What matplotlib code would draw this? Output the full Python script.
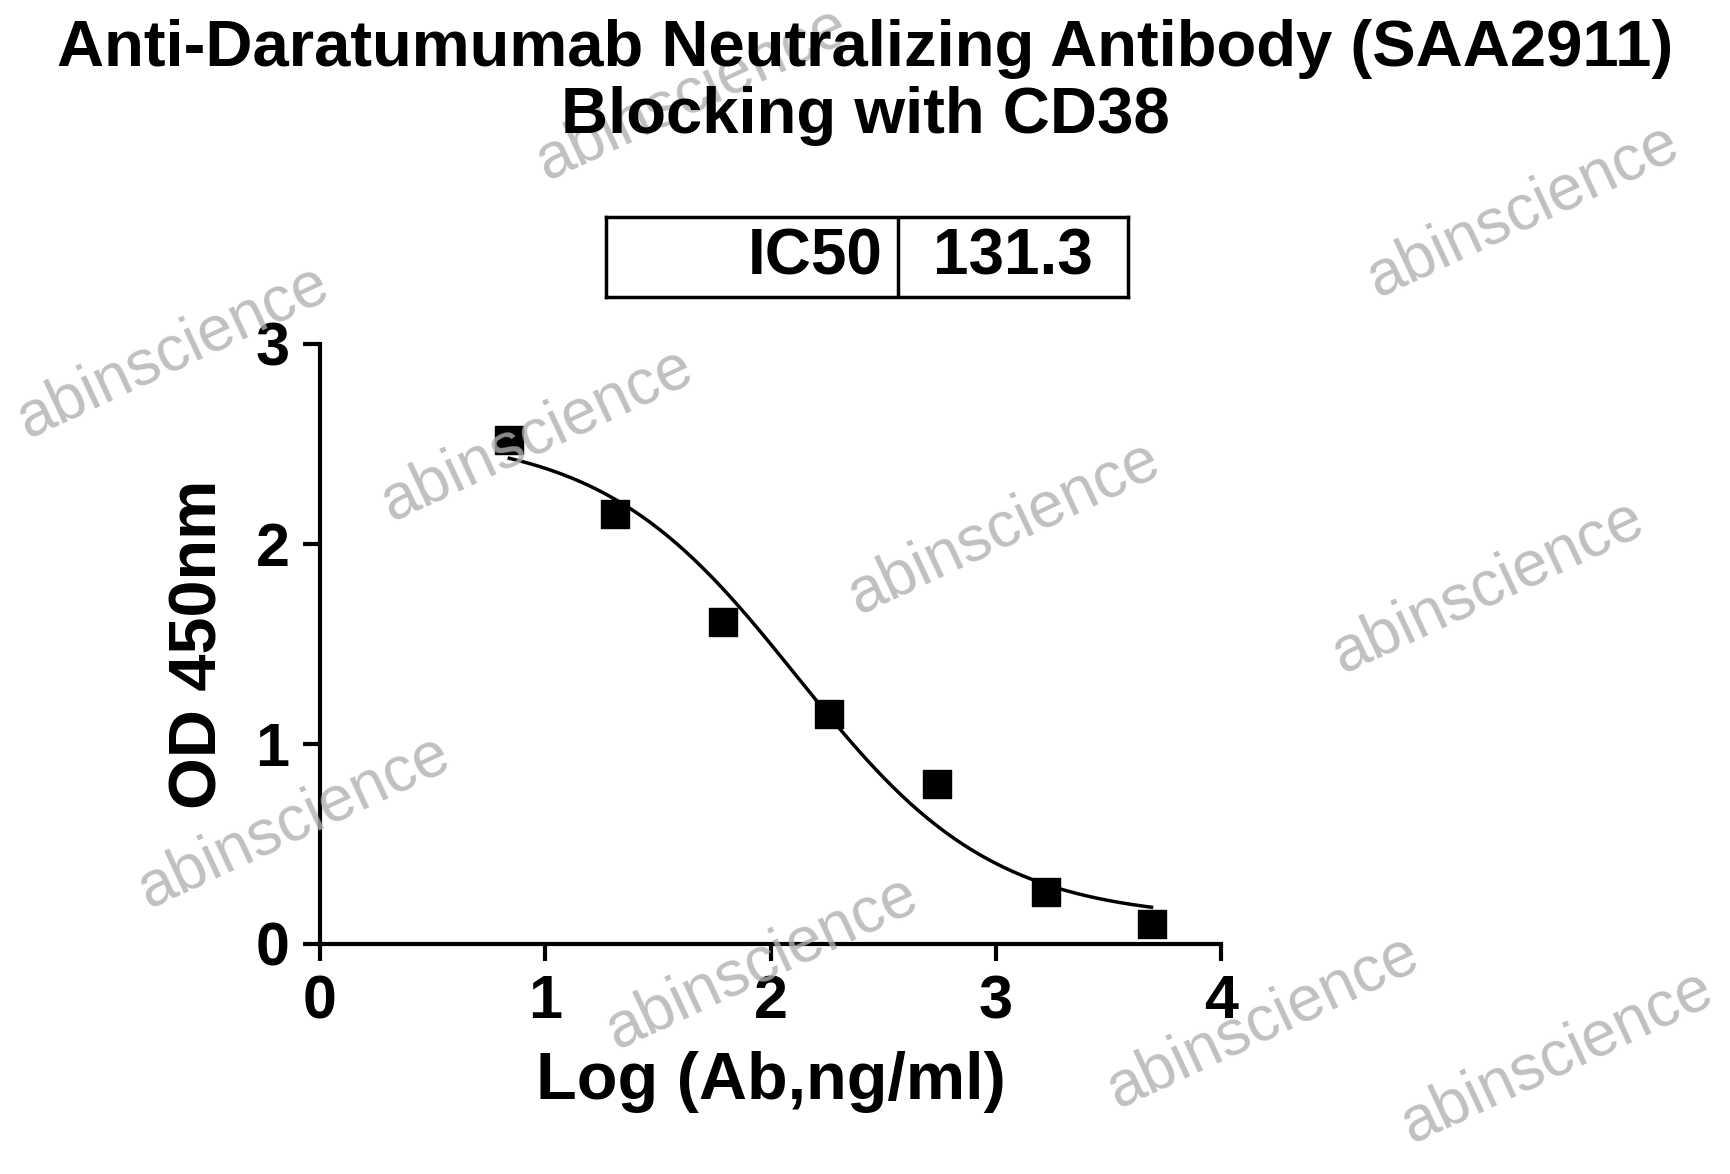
import numpy as np
import matplotlib
matplotlib.use("Agg")
import matplotlib.pyplot as plt

log_conc = [0.84, 1.31, 1.79, 2.26, 2.74, 3.22, 3.69]
od450 = [2.52, 2.15, 1.61, 1.15, 0.80, 0.26, 0.10]
fit_top, fit_bottom, fit_logic50, fit_hill = 2.55, 0.12, 2.118, 1.0
ic50_label = "131.3"

plt.rcParams['font.family'] = ['Liberation Sans', 'DejaVu Sans']
plt.rcParams['font.weight'] = 'bold'
W, H = 1730, 1174
fig = plt.figure(figsize=(W/100, H/100), dpi=100)

# watermarks
wm = [(0.40, 0.92), (0.88, 0.82), (0.10, 0.70), (0.31, 0.63), (0.58, 0.55),
      (0.86, 0.50), (0.17, 0.30), (0.44, 0.18), (0.73, 0.13), (0.90, 0.10)]
for x, y in wm:
    fig.text(x, y, "abinscience", fontsize=46, color='#b0b0b0', rotation=25, alpha=0.8,
             ha='center', va='center', fontweight='normal', zorder=0)

ax = fig.add_axes([0.185, 0.196, 0.521, 0.511])
ax.patch.set_alpha(0)
ax.scatter(log_conc, od450, marker='s', s=380, color='black', zorder=3)
xs = np.linspace(min(log_conc), max(log_conc), 300)
ys = fit_bottom + (fit_top - fit_bottom) / (1 + 10 ** ((xs - fit_logic50) * fit_hill))
ax.plot(xs, ys, color='black', lw=2.5)
ax.set_xlim(0, 4)
ax.set_ylim(0, 3)
ax.set_xticks([0, 1, 2, 3, 4])
ax.set_yticks([0, 1, 2, 3])
for s in ['top', 'right']:
    ax.spines[s].set_visible(False)
for s in ['left', 'bottom']:
    ax.spines[s].set_linewidth(3)
ax.tick_params(width=3, length=12, labelsize=44, direction='out', pad=10)
ax.set_xlabel("Log (Ab,ng/ml)", fontsize=48, fontweight='bold', labelpad=14)
ax.set_ylabel("OD 450nm", fontsize=48, fontweight='bold', labelpad=18)

fig.text(0.5, 0.93, "Anti-Daratumumab Neutralizing Antibody (SAA2911)\nBlocking with CD38",
         ha='center', va='center', fontsize=47, fontweight='bold', linespacing=1.15)

# IC50 table
tab = fig.add_axes([0.35, 0.747, 0.302, 0.068])
tab.set_xlim(0, 1); tab.set_ylim(0, 1)
tab.set_xticks([]); tab.set_yticks([])
for s in tab.spines.values():
    s.set_linewidth(2.5)
tab.axvline(0.56, color='black', lw=2.5)
tab.text(0.53, 0.5, "IC50", ha='right', va='center', fontsize=46, fontweight='bold')
tab.text(0.78, 0.5, ic50_label, ha='center', va='center', fontsize=46, fontweight='bold')

fig.savefig("out.png", dpi=100)
